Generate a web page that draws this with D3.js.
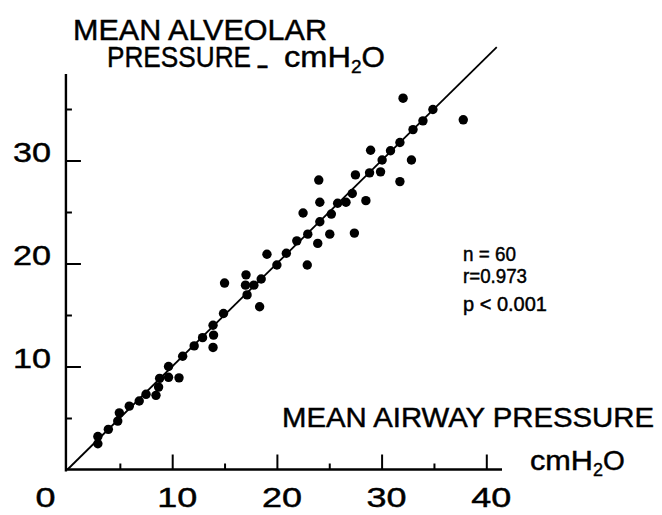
<!DOCTYPE html>
<html>
<head>
<meta charset="utf-8">
<script src="https://cdn.jsdelivr.net/npm/d3@7"></script>
<style>
  html, body { margin: 0; padding: 0; background: #fff; }
  svg text { font-family: "Liberation Sans", Arial, sans-serif; fill: #000; stroke: #000; stroke-width: 0.45px; }
</style>
</head>
<body>
<svg id="chart" width="662" height="515"></svg>
<script>
// Mean airway pressure (x) vs mean alveolar pressure (y), cmH2O
const airwayP = [
  2.9, 2.9, 3.9, 4.8, 4.95, 5.9, 6.85, 7.5, 8.45, 8.7,
  8.8, 9.65, 9.65, 10.65, 11.0, 12.1, 12.9, 13.9, 13.95, 13.9,
  14.9, 18.35, 15.0, 17.15, 17.0, 17.05, 17.8, 18.5, 19.05, 20.0,
  20.9, 21.9, 22.9, 22.95, 22.5, 23.9, 24.1, 24.1, 24.0, 25.05,
  25.2, 25.8, 26.6, 27.2, 27.4, 27.5, 28.5, 28.85, 29.9, 30.05,
  31.75, 28.95, 30.85, 31.75, 32.85, 33.0, 33.95, 34.9, 32.05, 37.8
];
const alveolarP = [
  3.2, 2.5, 3.9, 4.7, 5.5, 6.15, 6.65, 7.3, 7.2, 8.0,
  8.85, 10.0, 8.95, 8.9, 11.0, 12.0, 12.8, 14.0, 13.05, 11.85,
  15.15, 15.8, 18.1, 16.95, 17.9, 18.9, 17.9, 18.5, 20.9, 19.85,
  21.0, 22.2, 19.85, 22.85, 24.9, 21.95, 24.05, 25.95, 28.1, 22.85,
  24.8, 25.85, 25.95, 26.8, 22.95, 28.6, 26.1, 28.8, 28.9, 30.05,
  27.95, 31.0, 30.95, 31.75, 30.05, 33.0, 33.85, 34.95, 36.05, 33.95
];

// regression line y = a + b x, drawn over this x range
const regSlope = 1.0;
const regIntercept = 0.0;
const regRange = [0, 41];

const xMajorTicks = [10, 20, 30, 40];
const xMinorTicks = [5, 15, 25, 35];
const yMajorTicks = [10, 20, 30];
const yMinorTicks = [5, 15, 25, 35];
const xTickLabels = ["0", "10", "20", "30", "40"];
const xTickLabelValues = [0, 10, 20, 30, 40];
const yTickLabels = ["10", "20", "30"];

const statsLines = ["n = 60", "r=0.973", "p < 0.001"];

const svg = d3.select("#chart");

const x = d3.scaleLinear().domain([0, 40]).range([67.5, 486.3]);
const y = d3.scaleLinear().domain([0, 35]).range([469.5, 109]);

const ink = "#000";

// Axis lines
svg.append("line")
  .attr("x1", x(-0.2)).attr("x2", x(41.5))
  .attr("y1", y(0)).attr("y2", y(0))
  .attr("stroke", ink).attr("stroke-width", 2.4);

svg.append("line")
  .attr("x1", x(-0.15)).attr("x2", x(-0.15))
  .attr("y1", y(-0.2)).attr("y2", y(38.4))
  .attr("stroke", ink).attr("stroke-width", 2.4);

// X ticks (pointing up, into the plot)
svg.append("g")
  .attr("transform", `translate(0,${y(0)})`)
  .call(d3.axisBottom(x).tickValues(xMajorTicks).tickSize(-15).tickFormat(""))
  .call(g => g.select(".domain").remove())
  .selectAll("line").attr("stroke-width", 2);

svg.append("g")
  .attr("transform", `translate(0,${y(0)})`)
  .call(d3.axisBottom(x).tickValues(xMinorTicks).tickSize(-6).tickFormat(""))
  .call(g => g.select(".domain").remove())
  .selectAll("line").attr("stroke-width", 2);

// Y ticks (pointing right, into the plot)
svg.append("g")
  .attr("transform", `translate(${x(-0.15)},0)`)
  .call(d3.axisLeft(y).tickValues(yMajorTicks).tickSize(-15).tickFormat(""))
  .call(g => g.select(".domain").remove())
  .selectAll("line").attr("stroke-width", 2);

svg.append("g")
  .attr("transform", `translate(${x(-0.15)},0)`)
  .call(d3.axisLeft(y).tickValues(yMinorTicks).tickSize(-6).tickFormat(""))
  .call(g => g.select(".domain").remove())
  .selectAll("line").attr("stroke-width", 2);

// X tick labels
svg.selectAll(".xlab").data(xTickLabelValues).enter()
  .append("text").attr("class", "xlab")
  .attr("x", (d, i) => i === 0 ? x(d) - 22 : x(d) + 5)
  .attr("y", 507)
  .attr("text-anchor", "middle")
  .attr("font-size", 27)
  .attr("textLength", (d, i) => i === 0 ? 20 : 40)
  .attr("lengthAdjust", "spacingAndGlyphs")
  .text((d, i) => xTickLabels[i]);

// Y tick labels
svg.selectAll(".ylab").data(yMajorTicks).enter()
  .append("text").attr("class", "ylab")
  .attr("x", 13)
  .attr("y", d => y(d) + 1)
  .attr("font-size", 27)
  .attr("textLength", 38)
  .attr("lengthAdjust", "spacingAndGlyphs")
  .text((d, i) => yTickLabels[i]);

// Regression line
svg.append("line")
  .attr("x1", x(regRange[0])).attr("y1", y(regIntercept + regSlope * regRange[0]))
  .attr("x2", x(regRange[1])).attr("y2", y(regIntercept + regSlope * regRange[1]))
  .attr("stroke", ink).attr("stroke-width", 1.8);

// Points
svg.selectAll(".dot").data(airwayP).enter()
  .append("circle").attr("class", "dot")
  .attr("cx", d => x(d))
  .attr("cy", (d, i) => y(alveolarP[i]))
  .attr("r", 4.7)
  .attr("fill", ink);

// Y axis title (two lines)
svg.append("text")
  .attr("x", 73).attr("y", 40)
  .attr("font-size", 30)
  .attr("textLength", 254)
  .attr("lengthAdjust", "spacingAndGlyphs")
  .text("MEAN  ALVEOLAR");

const t2 = svg.append("text").attr("y", 67).attr("font-size", 30);
t2.append("tspan").attr("x", 107)
  .attr("textLength", 144).attr("lengthAdjust", "spacingAndGlyphs")
  .text("PRESSURE");
t2.append("tspan").attr("x", 256).attr("dy", 8)
  .attr("textLength", 13).attr("lengthAdjust", "spacingAndGlyphs")
  .text("\u2010");
t2.append("tspan").attr("x", 284).attr("dy", -8)
  .attr("textLength", 67).attr("lengthAdjust", "spacingAndGlyphs")
  .text("cmH");
t2.append("tspan").attr("dy", 6).attr("font-size", 19).text("2");
t2.append("tspan").attr("dy", -6).text("O");

// X axis title
svg.append("text")
  .attr("x", 282).attr("y", 427)
  .attr("font-size", 27)
  .attr("textLength", 372)
  .attr("lengthAdjust", "spacingAndGlyphs")
  .text("MEAN  AIRWAY  PRESSURE");

const t3 = svg.append("text").attr("y", 470).attr("font-size", 28);
t3.append("tspan").attr("x", 530)
  .attr("textLength", 63).attr("lengthAdjust", "spacingAndGlyphs")
  .text("cmH");
t3.append("tspan").attr("dy", 6).attr("font-size", 18).text("2");
t3.append("tspan").attr("dy", -6).text("O");

// Statistics
const statsWidths = [53, 64, 84];
const statsBase = [261, 283, 311];
svg.selectAll(".stat").data(statsLines).enter()
  .append("text").attr("class", "stat")
  .attr("x", 463)
  .attr("y", (d, i) => statsBase[i])
  .attr("font-size", 20)
  .attr("textLength", (d, i) => statsWidths[i])
  .attr("lengthAdjust", "spacingAndGlyphs")
  .text(d => d);
</script>
</body>
</html>
